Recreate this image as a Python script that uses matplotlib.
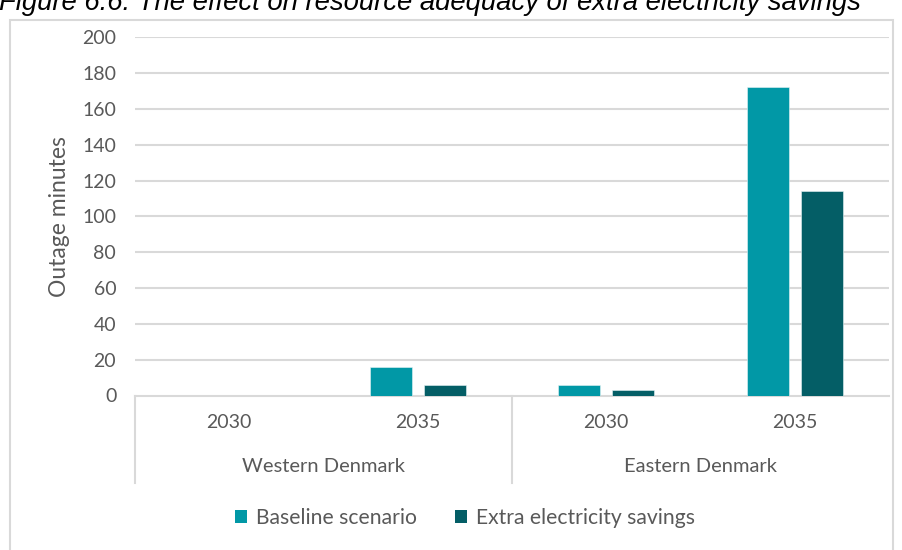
import matplotlib
matplotlib.use("Agg")
import matplotlib.pyplot as plt
import matplotlib.transforms as mtransforms
from matplotlib.patches import Rectangle, Patch
import numpy as np

# Outage minutes per area and year
regions = ["Western Denmark", "Eastern Denmark"]
years = ["2030", "2035"]
baseline = [0, 16, 6, 172]
extra_savings = [0, 6, 3, 114]
series_names = ["Baseline scenario", "Extra electricity savings"]
y_ticks = [0, 20, 40, 60, 80, 100, 120, 140, 160, 180, 200]
title = "Figure 6.6: The effect on resource adequacy of extra electricity savings"

W, H = 903, 550
fig = plt.figure(figsize=(W / 100, H / 100), dpi=100)
plt.rcParams["font.family"] = ["Lato", "DejaVu Sans"]

text_grey = "#595959"
line_grey = "#D9D9D9"
c_base = "#0198A6"
c_extra = "#045E66"
fs = 14

# Outer chart frame
fig.patches.append(Rectangle((10 / W, -0.05), (893 - 10) / W, 1.05 - 20 / H,
                             transform=fig.transFigure, fill=False,
                             edgecolor=line_grey, linewidth=1.5))

# Caption, running off the top edge
fig.text(-1 / W, 1 - 10 / H, title, ha="left", va="baseline",
         fontsize=19.8, style="italic", family=["Liberation Sans"], color="#000000")

left, right = 135 / W, 889 / W
bottom, top = 1 - 395.5 / H, 1 - 37.3 / H
ax = fig.add_axes([left, bottom, right - left, top - bottom])

n = len(baseline)
x = np.arange(n)
bw = 0.223
off = bw / 2 + 0.032
ax.bar(x - off, baseline, bw, color=c_base, edgecolor="#E6F4F5", linewidth=0.4,
       label=series_names[0], zorder=3)
ax.bar(x + off, extra_savings, bw, color=c_extra, edgecolor="#E6F4F5", linewidth=0.4,
       label=series_names[1], zorder=3)

ax.set_xlim(-0.5, n - 0.5)
ax.set_ylim(0, 200)
ax.set_yticks(y_ticks)
ax.set_yticklabels([str(v) for v in y_ticks])
ax.tick_params(axis="y", length=0, pad=13.5, labelsize=fs, labelcolor=text_grey)
ax.set_xticks([])
for v in y_ticks[1:]:
    ax.axhline(v, color=line_grey, linewidth=1.5, zorder=1)
for s in ["top", "right", "left"]:
    ax.spines[s].set_visible(False)
ax.spines["bottom"].set_color(line_grey)
ax.spines["bottom"].set_linewidth(1.5)

ax.set_ylabel("Outage minutes", fontsize=16.5, color=text_grey, labelpad=9)

# Two-level category axis: years, then regions, with separators between regions
trans = mtransforms.blended_transform_factory(ax.transData, fig.transFigure)
year_y = 1 - 423 / H
region_y = 1 - 467 / H
for i in range(n):
    ax.text(x[i], year_y, years[i % len(years)], transform=trans, ha="center",
            va="center", fontsize=fs, color=text_grey)
for r, name in enumerate(regions):
    centre = r * len(years) + (len(years) - 1) / 2
    ax.text(centre, region_y, name, transform=trans, ha="center", va="center",
            fontsize=fs + 0.5, color=text_grey)
sep_top = 1 - 395.5 / H
sep_bottom = 1 - 483 / H
for r in range(len(regions)):
    xs = r * len(years) - 0.5
    ax.plot([xs, xs], [sep_top, sep_bottom], transform=trans, color=line_grey,
            linewidth=1.5, clip_on=False)

handles = [Patch(facecolor=c_base), Patch(facecolor=c_extra)]
fig.legend(handles, series_names, loc="center", bbox_to_anchor=(465 / W, 1 - 518 / H),
           ncol=2, frameon=False, fontsize=15.2, labelcolor=text_grey,
           handlelength=0.55, handleheight=0.55, handletextpad=0.45, columnspacing=1.8)

fig.savefig("out.png", dpi=100)
